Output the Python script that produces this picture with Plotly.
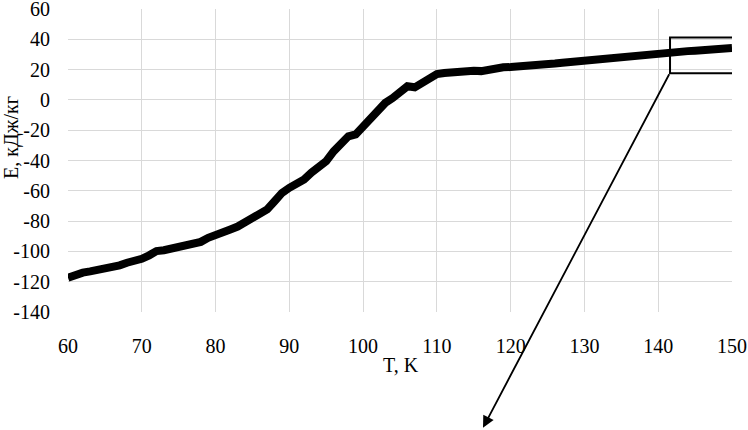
import plotly.graph_objects as go

T_K = [60, 61, 62, 63, 64, 65, 66, 67, 68, 69, 70, 71, 72, 73, 74, 75, 76, 77, 78, 79,
       80, 81, 82, 83, 84, 85, 86, 87, 88, 89, 90, 91, 92, 93, 94, 95, 96, 97, 98, 99,
       100, 101, 102, 103, 104, 105, 106, 107, 108, 109, 110, 111, 112, 113, 114, 115,
       116, 117, 118, 119, 120, 121, 122, 123, 124, 125, 126, 127, 128, 129, 130, 131,
       132, 133, 134, 135, 136, 137, 138, 139, 140, 141, 142, 143, 144, 145, 146, 147,
       148, 149, 150]
E_kJ = [-117.4, -115.5, -114.0, -113.2, -112.5, -111.6, -110.3, -109.2, -107.5, -106.4,
        -104.9, -102.6, -99.8, -99.2, -98.0, -97.1, -96.0, -94.6, -93.7, -91.0,
        -89.5, -87.8, -85.5, -83.6, -81.0, -77.8, -75.0, -72.3, -66.9, -61.4,
        -58.0, -55.7, -52.5, -48.0, -45.0, -40.5, -34.0, -28.4, -24.0, -22.8,
        -17.4, -12.5, -7.5, -2.0, 1.2, 5.6, 9.0, 8.3, 11.0, 15.0,
        17.0, 17.8, 18.4, 18.2, 19.0, 19.3, 19.0, 20.0, 21.3, 21.5,
        21.7, 22.3, 22.8, 23.0, 23.2, 24.5, 24.0, 24.5, 25.0, 25.5,
        26.0, 26.5, 27.3, 27.8, 28.3, 29.0, 28.8, 29.5, 30.0, 30.3,
        30.8, 31.0, 31.5, 31.8, 32.2, 32.5, 33.0, 33.4, 33.8, 34.0, 34.2]

x_ticks = [60, 70, 80, 90, 100, 110, 120, 130, 140, 150]
y_ticks = [60, 40, 20, 0, -20, -40, -60, -80, -100, -120, -140]
y_tick_labels = ["60", "40", "20", "0", "-20", "-40", "-60", "-80", "-100", "-120", "-140"]

FONT = "Liberation Serif"

fig = go.Figure()
fig.add_trace(go.Scatter(x=T_K, y=E_kJ, mode="lines",
                         line=dict(color="black", width=8),
                         hoverinfo="skip", showlegend=False, cliponaxis=False))

grid = "#d9d9d9"
fig.update_layout(
    width=748, height=430,
    margin=dict(l=68, r=16, t=9, b=118, autoexpand=False),
    paper_bgcolor="white", plot_bgcolor="white",
    font=dict(family=FONT, size=20, color="black"),
    xaxis=dict(range=[60, 150], tickvals=x_ticks, showgrid=True, gridcolor=grid,
               gridwidth=1, zeroline=False, showline=False, ticks="", automargin=False,
               ticklabelstandoff=20, ticklabeloverflow="allow",
               tickfont=dict(family=FONT, size=20)),
    yaxis=dict(range=[-140, 60], tickvals=y_ticks, ticktext=y_tick_labels,
               showgrid=True, gridcolor=grid,
               gridwidth=1, zeroline=False, showline=False, ticks="", automargin=False,
               ticklabelstandoff=17, ticklabeloverflow="allow",
               tickfont=dict(family=FONT, size=20)),
    shapes=[
        dict(type="rect", xref="x", yref="y", x0=141.6, x1=150.7, y0=17.6, y1=41.2,
             line=dict(color="black", width=2), fillcolor="rgba(0,0,0,0)", layer="above"),
    ],
    annotations=[
        dict(text="T, K", xref="paper", yref="paper", x=0.502, y=-0.175,
             showarrow=False, xanchor="center", yanchor="middle",
             font=dict(family=FONT, size=20)),
        dict(text="E, кДж/кг", xref="paper", yref="paper", x=-0.084, y=0.575,
             textangle=-90, showarrow=False, xanchor="center", yanchor="middle",
             font=dict(family=FONT, size=20)),
        dict(text="", xref="paper", yref="paper", x=0.625, y=-0.382,
             ax=187, ay=-355, axref="pixel", ayref="pixel",
             showarrow=True, arrowhead=2, arrowsize=1.3, arrowwidth=1.8,
             arrowcolor="black"),
    ],
)

fig.write_html("out.html", config={"displayModeBar": False},
               post_script="document.body.style.margin='0';")
